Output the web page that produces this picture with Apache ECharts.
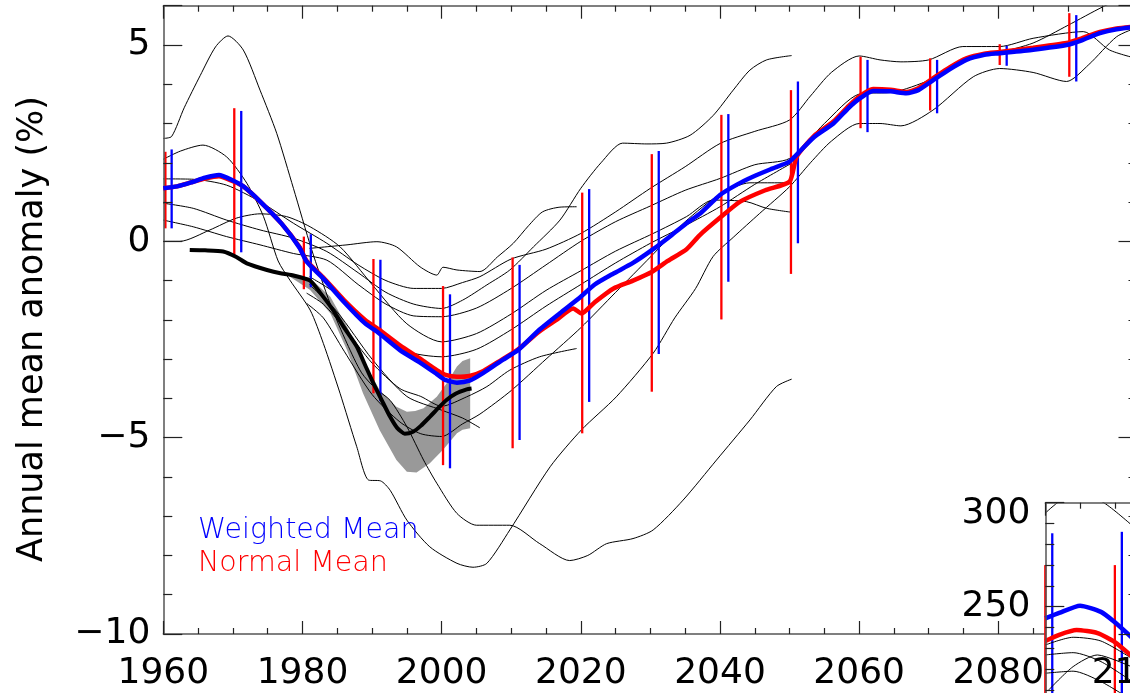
<!DOCTYPE html>
<html>
<head>
<meta charset="utf-8">
<title>Annual mean anomaly</title>
<script src="https://cdn.jsdelivr.net/npm/echarts@6/dist/echarts.min.js"></script>
<style>
    html, body { margin: 0; padding: 0; background: #fff; }
    #main { width: 1130px; height: 693px; }
</style>
</head>
<body>
<div id="main"></div>
<script>
// ensemble means, [year, anomaly %]
var weightedMean = [[1960,1.35],[1962,1.4],[1964,1.5],[1966,1.62],[1968,1.69],[1970,1.55],[1971.5,1.4],[1974,1.0],[1977,0.45],[1979.6,-0.17],[1980.6,-0.52],[1983,-0.95],[1986,-1.55],[1989,-2.09],[1991,-2.34],[1994,-2.77],[1997,-3.1],[1999.3,-3.38],[2000.5,-3.53],[2002.2,-3.6],[2004,-3.55],[2006,-3.35],[2008.5,-3.05],[2011,-2.77],[2014,-2.26],[2017,-1.83],[2020,-1.41],[2022,-1.1],[2024.7,-0.82],[2027.5,-0.55],[2030.4,-0.2],[2033,0.15],[2035.2,0.46],[2037.1,0.7],[2040,1.18],[2042.5,1.45],[2044.8,1.65],[2047.5,1.85],[2050,2.03],[2051.2,2.24],[2053.5,2.65],[2056.3,3.0],[2058.5,3.4],[2060.1,3.64],[2062,3.83],[2064.5,3.82],[2066.8,3.77],[2068.5,3.85],[2070.6,4.1],[2073,4.38],[2075.4,4.62],[2078,4.75],[2080.2,4.79],[2085,4.88],[2089.8,5.0],[2092,5.12],[2094.6,5.3],[2097,5.4],[2100,5.47]];
var normalMean = [[1960,1.35],[1962,1.4],[1964,1.5],[1966,1.6],[1968,1.66],[1970,1.53],[1971.5,1.4],[1974,1.0],[1977,0.45],[1979.6,-0.15],[1980.6,-0.5],[1983,-0.92],[1986,-1.5],[1989,-2.0],[1991,-2.25],[1994,-2.65],[1997,-3.0],[1999.3,-3.28],[2000.7,-3.41],[2002.2,-3.45],[2004,-3.43],[2006,-3.3],[2008.5,-3.03],[2011,-2.75],[2014,-2.3],[2016.5,-2.0],[2018.9,-1.71],[2020.1,-1.84],[2022,-1.55],[2024.7,-1.2],[2027.5,-1.0],[2030.2,-0.78],[2032.5,-0.5],[2035.2,-0.2],[2037.1,0.16],[2040.2,0.63],[2042.9,1.01],[2046.5,1.3],[2050,1.52],[2051,2.15],[2053.5,2.68],[2056.3,3.05],[2058.5,3.45],[2060.1,3.7],[2062,3.88],[2064.5,3.86],[2066.8,3.8],[2068.5,3.9],[2070.6,4.15],[2073,4.43],[2075.4,4.66],[2078,4.78],[2080.2,4.82],[2085,4.93],[2089.8,5.05],[2092,5.17],[2094.6,5.33],[2097,5.42],[2100,5.48]];

// spread bars, [x, low, high]
var normalBars = [[1960.3,0.33,2.28],[1970.2,-0.39,3.39],[1980.2,-1.22,0.12],[1990.2,-3.87,-0.45],[2000.2,-5.7,-1.14],[2010.2,-5.27,-0.41],[2020.2,-4.89,1.24],[2030.2,-3.83,2.22],[2040.2,-1.99,3.22],[2050.2,-0.83,3.85],[2060.2,2.88,4.7],[2070.2,3.33,4.66],[2080.2,4.49,5.02],[2090.2,4.19,5.81]];
var weightedBars = [[1961.2,0.33,2.34],[1971.2,-0.28,3.32],[1981.2,-1.17,0.18],[1991.2,-4.07,-0.47],[2001.2,-5.78,-1.35],[2011.2,-5.06,-0.6],[2021.2,-4.09,1.33],[2031.2,-2.87,2.3],[2041.2,-1.03,3.24],[2051.2,-0.05,4.07],[2061.2,2.78,4.62],[2071.2,3.26,4.62],[2081.2,4.47,4.98],[2091.2,4.07,5.76]];

// observations and their uncertainty band
var observed = [[1963.8,-0.22],[1966,-0.23],[1968.6,-0.26],[1970.5,-0.4],[1972,-0.56],[1974.9,-0.73],[1977,-0.82],[1978.7,-0.87],[1981.1,-1.0],[1982.5,-1.3],[1984.4,-1.75],[1986,-2.2],[1987.8,-2.68],[1989,-3.15],[1990.2,-3.62],[1991.4,-4.05],[1992.6,-4.47],[1993.6,-4.75],[1994.7,-4.9],[1995.9,-4.85],[1997,-4.7],[1998.3,-4.47],[1999.5,-4.25],[2000.7,-4.04],[2002,-3.88],[2003.6,-3.77],[2004.3,-3.75]];
var bandUpper = [[1978.2,-0.82],[1981.1,-0.94],[1984,-1.41],[1986.4,-2.17],[1988.7,-3.02],[1991.1,-3.79],[1993.5,-4.21],[1995,-4.34],[1996.2,-4.32],[1997.4,-4.25],[1999.3,-3.96],[2000.7,-3.62],[2002.2,-3.19],[2003,-3.05],[2004.1,-2.98]];
var bandLower = [[1978.2,-0.9],[1981.1,-1.24],[1984,-1.83],[1986.4,-2.77],[1988.7,-3.87],[1991.1,-4.81],[1993.5,-5.57],[1995,-5.87],[1996.4,-5.89],[1998.3,-5.65],[2000.2,-5.31],[2002.2,-4.89],[2003,-4.8],[2004.1,-4.76]];

// individual model runs
var run1 = [[1960,2.62],[1961.2,2.67],[1963,3.4],[1965.3,4.22],[1967.5,4.95],[1969.3,5.23],[1971.5,4.87],[1973.9,3.85],[1976.3,2.75],[1978.7,1.35],[1981.3,-0.2],[1984,-1.6],[1986.4,-2.6],[1988.5,-3.35],[1990.5,-3.75],[1992.6,-4.05],[1995,-4.72],[1997.4,-5.57],[1999.3,-6.16],[2002.2,-6.93],[2005,-7.23],[2009.8,-7.23],[2014.1,-7.7],[2018.4,-8.13],[2021,-8.0],[2023.7,-7.7],[2027.5,-7.57],[2030.4,-7.35],[2034.7,-6.59],[2039.5,-5.57],[2044.3,-4.55],[2048.1,-3.7],[2050.3,-3.51]];
var run2 = [[1960,2.09],[1962.5,2.3],[1965.7,2.45],[1969.1,2.15],[1972,1.48],[1974.4,0.63],[1976.5,-0.5],[1978.2,-0.99],[1981.1,-1.75],[1983,-2.6],[1985.4,-3.87],[1987.8,-5.23],[1989.5,-6.08],[1991.2,-6.1],[1992.6,-6.34],[1995,-7.1],[1998.3,-7.78],[2002.2,-8.2],[2004.5,-8.3],[2006.5,-8.2],[2009.8,-7.35],[2015.6,-5.74],[2020.1,-4.8],[2025.1,-3.96],[2030.4,-2.85],[2033.5,-1.95],[2036.5,-1.2],[2039,-0.39],[2041.9,0.1],[2045.7,0.71],[2050,1.39],[2053,2.0],[2056,2.55],[2060,3.0],[2063,3.0],[2066,2.94],[2070.6,3.34],[2076.4,4.19],[2080.2,4.4],[2085,4.3],[2089.8,4.07],[2093,4.5],[2097,5.21],[2100,5.45]];
var run3 = [[1960,1.59],[1964.3,1.58],[1969.1,1.43],[1973.9,1.01],[1978.7,0.46],[1983.5,-0.05],[1988,-0.6],[1992,-1.0],[1996,-1.2],[2000,-1.2],[2003,-1.05],[2005.5,-0.9],[2010,-0.45],[2015,-0.2],[2020,0.2],[2025,0.75],[2030,1.35],[2035,1.9],[2040,2.49],[2045,2.8],[2050,3.09],[2053,3.7],[2056,4.3],[2060,4.72],[2063,4.62],[2066,4.57],[2070,4.62],[2074.9,4.96],[2080.2,4.96],[2085,5.17],[2092.2,5.34],[2096,4.87],[2100,4.65]];
var run4 = [[1960,0.97],[1964.3,0.84],[1969.1,0.54],[1973.9,0.29],[1978.7,0.08],[1983.5,-0.26],[1988,-0.8],[1992,-1.3],[1996,-1.6],[2000,-1.71],[2003,-1.5],[2006.5,-1.11],[2009.8,-0.73],[2013.2,-0.14],[2017,0.54],[2020,1.35],[2022.9,2.0],[2026,2.5],[2029.5,2.48],[2032.3,2.5],[2035.7,2.7],[2039,3.2],[2041.9,3.85],[2044.3,4.36],[2046.7,4.62],[2050.3,4.73]];
var run5 = [[1960,0.54],[1964.3,0.37],[1969.1,0.12],[1973.9,-0.09],[1978.7,-0.31],[1983.5,-0.48],[1988,-1.1],[1992,-1.6],[1996,-1.9],[2000,-1.92],[2005,-1.7],[2010,-1.2],[2015,-0.6],[2020,0.0],[2025,0.5],[2030,0.9],[2035,1.3],[2040,1.6],[2045,1.95],[2050,2.11],[2055,3.0],[2060,3.75],[2065,3.8],[2070,4.1],[2075,4.6],[2080,4.8],[2085,5.05],[2090,5.5],[2095,5.97],[2098,6.2]];
var run6 = [[1960,0.0],[1962.4,0.0],[1966.7,0.29],[1970.5,0.59],[1973.9,0.7],[1977.7,0.63],[1981.1,0.37],[1985.4,-0.14],[1990,-1.1],[1995,-2.1],[2000,-2.56],[2005,-2.35],[2010,-1.85],[2015,-1.25],[2020,-0.75],[2025,-0.25],[2030.4,0.2],[2035.2,0.63],[2039,1.05],[2043.8,1.01],[2046.7,0.84],[2050.3,0.74]];
var run7 = [[1981,-0.18],[1986.4,-0.09],[1990.7,-0.01],[1993.5,-0.14],[1996.9,-0.65],[1999.3,-0.86],[2000.2,-0.66],[2002.2,-0.73],[2005.5,-0.77],[2008,-0.4],[2010.3,-0.05],[2012.5,0.4],[2014.5,0.75],[2017,0.87],[2019.4,0.88]];
var run8 = [[1980.6,-1.32],[1983,-1.6],[1986,-2.2],[1990,-3.1],[1994,-3.75],[1997,-3.95],[2000,-4.2],[2003.6,-3.96],[2006.5,-3.7],[2009.8,-3.28],[2014.1,-2.94],[2019.4,-2.73]];
var run9 = [[1980.6,-1.58],[1983,-1.95],[1986,-2.8],[1990,-3.9],[1994,-4.6],[1997,-4.9],[2000,-4.97],[2003,-4.65],[2005.5,-4.4],[2010,-3.8],[2015,-3.0],[2020,-2.2],[2025,-1.3],[2030,-0.4],[2035,0.5],[2040,1.2],[2044.3,1.49],[2050.3,1.49]];
var run10 = [[1981,-0.9],[1985,-1.35],[1990,-2.2],[1995,-2.8],[2000,-2.94],[2005,-2.75],[2010,-2.25],[2015,-1.65],[2020,-1.1],[2025,-0.55],[2030,-0.05],[2035,0.4],[2040,0.88],[2045,1.45],[2050.3,1.99]];
var run11 = [[1981,-1.1],[1985,-1.8],[1990,-3.0],[1995,-3.95],[2000,-4.3],[2003,-4.5],[2005.5,-4.75]];
var runs = [run1, run2, run3, run4, run5, run6, run7, run8, run9, run10, run11];

// corner of the neighbouring panel (absolute values)
var insetWeighted = [[1960,244.4],[1962,247],[1965,250.5],[1968,247.5],[1970,242.5],[1972.5,235]];
var insetNormal = [[1960,233.5],[1962,236.5],[1964.5,238.8],[1967.5,237.3],[1970,233],[1972.5,226]];
var insetRuns = [
    [[1960,295],[1962,300.5],[1965,304],[1968.4,300],[1972.5,289]],
    [[1960,231.6],[1964,235.3],[1968,233.5],[1972.5,225]],
    [[1960,226.8],[1964,227.9],[1968,223.6],[1972.5,214]],
    [[1960.5,210],[1964,221.2],[1967.5,226.8],[1970,224.4],[1972.5,221]],
    [[1960,218],[1964,219],[1968,214],[1972.5,205]]
];
var insetNormalBars = [[1960,198,270],[1970,196,270]];
var insetWeightedBars = [[1961,190,285.3],[1971,188,286]];

var myChart = echarts.init(document.getElementById('main'));

var tickFont = {fontFamily: 'DejaVu Sans', fontSize: 36, color: '#000'};
var frame = {show: true, onZero: false, lineStyle: {color: '#555', width: 1.5}};

function runSeries(data, xi, yi, z) {
    return {
        type: 'line', data: data, xAxisIndex: xi, yAxisIndex: yi, z: z,
        symbol: 'none', smooth: 0.25, silent: true,
        lineStyle: {color: '#000', width: 1}
    };
}

function barSeries(data, color, xi, yi, z) {
    return {
        type: 'custom', data: data, xAxisIndex: xi, yAxisIndex: yi, z: z,
        encode: {x: 0, y: [1, 2]}, silent: true,
        renderItem: function (params, api) {
            var a = api.coord([api.value(0), api.value(1)]);
            var b = api.coord([api.value(0), api.value(2)]);
            return {
                type: 'line',
                shape: {x1: a[0], y1: a[1], x2: b[0], y2: b[1]},
                style: {stroke: color, lineWidth: 2.3}
            };
        }
    };
}

function meanSeries(data, color, xi, yi, z) {
    return {
        type: 'line', data: data, xAxisIndex: xi, yAxisIndex: yi, z: z,
        symbol: 'none', smooth: 0.2, silent: true,
        lineStyle: {color: color, width: 4.5}
    };
}

var series = [];

series.push({
    type: 'custom', xAxisIndex: 0, yAxisIndex: 0, z: 1, silent: true,
    data: [bandUpper[0]],
    renderItem: function (params, api) {
        var pts = [];
        bandUpper.forEach(function (p) { pts.push(api.coord(p)); });
        bandLower.slice().reverse().forEach(function (p) { pts.push(api.coord(p)); });
        return {type: 'polygon', shape: {points: pts}, style: {fill: '#999999'}};
    }
});

runs.forEach(function (r) { series.push(runSeries(r, 0, 0, 2)); });

series.push({
    type: 'line', data: observed, xAxisIndex: 0, yAxisIndex: 0, z: 3,
    symbol: 'none', smooth: 0.2, silent: true,
    lineStyle: {color: '#000', width: 4}
});

series.push(barSeries(normalBars, '#ff0000', 0, 0, 3));
series.push(barSeries(weightedBars, '#0000ff', 0, 0, 3));
series.push(meanSeries(normalMean, '#ff0000', 0, 0, 4));
series.push(meanSeries(weightedMean, '#0000ff', 0, 0, 4));

// neighbouring panel
insetRuns.forEach(function (r) { series.push(runSeries(r, 3, 2, 6)); });
series.push(meanSeries(insetNormal, '#ff0000', 3, 2, 6));
series.push(meanSeries(insetWeighted, '#0000ff', 3, 2, 6));
series.push(barSeries(insetNormalBars, '#ff0000', 3, 2, 6));
series.push(barSeries(insetWeightedBars, '#0000ff', 3, 2, 6));

function yLabel(v) {
    if (v === 6) return '';
    return v < 0 ? '\u2212' + Math.abs(v) : String(v);
}

var ticksX = {inside: true, length: 13, lineStyle: {color: '#222', width: 1.2}};
var minorX = {show: true, splitNumber: 4, length: 6, lineStyle: {color: '#222', width: 1.2}};
var ticksY = {inside: true, length: 19, lineStyle: {color: '#222', width: 1.2}};
var minorY = {show: true, splitNumber: 5, length: 9, lineStyle: {color: '#222', width: 1.2}};
var legendFont = '"DejaVu Sans ExtraLight", "DejaVu Sans"';

option = {
    animation: false,
    backgroundColor: '#fff',
    grid: [
        {left: 163.3, top: 5.7, width: 974.2, height: 628.3, show: false, z: 0,
         containLabel: false, outerBoundsMode: 'none'},
        {left: 1045.3, top: 502.7, width: 974, height: 312, show: true,
         backgroundColor: '#fff', borderWidth: 0, z: 5,
         containLabel: false, outerBoundsMode: 'none'}
    ],
    xAxis: [
        {gridIndex: 0, type: 'value', position: 'bottom', min: 1960, max: 2100, interval: 20, z: 3,
         axisLine: frame, axisTick: ticksX, minorTick: minorX,
         axisLabel: {show: false}, splitLine: {show: false}},
        {gridIndex: 0, type: 'value', position: 'bottom', min: 1960, max: 2100, interval: 20, z: 10,
         axisLine: {show: false, onZero: false}, axisTick: {show: false},
         axisLabel: Object.assign({margin: 22, formatter: function (v) { return String(v); }}, tickFont),
         splitLine: {show: false}},
        {gridIndex: 0, type: 'value', position: 'top', min: 1960, max: 2100, interval: 20, z: 3,
         axisLine: frame, axisTick: ticksX, minorTick: minorX,
         axisLabel: {show: false}, splitLine: {show: false}},
        {gridIndex: 1, type: 'value', position: 'top', min: 1960, max: 2100, interval: 20, z: 7,
         axisLine: frame, axisTick: ticksX, minorTick: minorX,
         axisLabel: {show: false}, splitLine: {show: false}}
    ],
    yAxis: [
        {gridIndex: 0, type: 'value', position: 'left', min: -10, max: 6, interval: 5, z: 3,
         axisLine: frame, axisTick: ticksY, minorTick: minorY,
         axisLabel: Object.assign({margin: 13, formatter: yLabel}, tickFont),
         splitLine: {show: false}},
        {gridIndex: 0, type: 'value', position: 'right', min: -10, max: 6, interval: 5, z: 10,
         axisLine: frame, axisTick: ticksY, minorTick: minorY,
         axisLabel: {show: false}, splitLine: {show: false}},
        {gridIndex: 1, type: 'value', position: 'left', min: 150, max: 300, interval: 50, z: 7,
         axisLine: frame, axisTick: ticksY, minorTick: minorY,
         axisLabel: Object.assign({
             margin: 15,
             formatter: function (v) { return v === 300 ? '{top|300}' : String(v); },
             rich: {top: {fontFamily: 'DejaVu Sans', fontSize: 36, color: '#000', padding: [22, 0, 0, 0]}}
         }, tickFont),
         splitLine: {show: false}}
    ],
    graphic: [
        {type: 'text', x: 33, y: 329, rotation: Math.PI / 2, z: 20,
         style: {text: 'Annual mean anomaly (%)', fill: '#000', fontFamily: 'DejaVu Sans', fontSize: 35,
                 align: 'center', verticalAlign: 'middle'}},
        {type: 'text', x: 198, y: 516.5, z: 20,
         style: {text: 'Weighted Mean', fill: '#0000ff', fontFamily: legendFont, fontWeight: 200, fontSize: 28.5,
                 verticalAlign: 'top'}},
        {type: 'text', x: 198, y: 549.5, z: 20,
         style: {text: 'Normal Mean', fill: '#ff0000', fontFamily: legendFont, fontWeight: 200, fontSize: 28.5,
                 verticalAlign: 'top'}}
    ],
    series: series
};

myChart.setOption(option);
</script>
</body>
</html>
